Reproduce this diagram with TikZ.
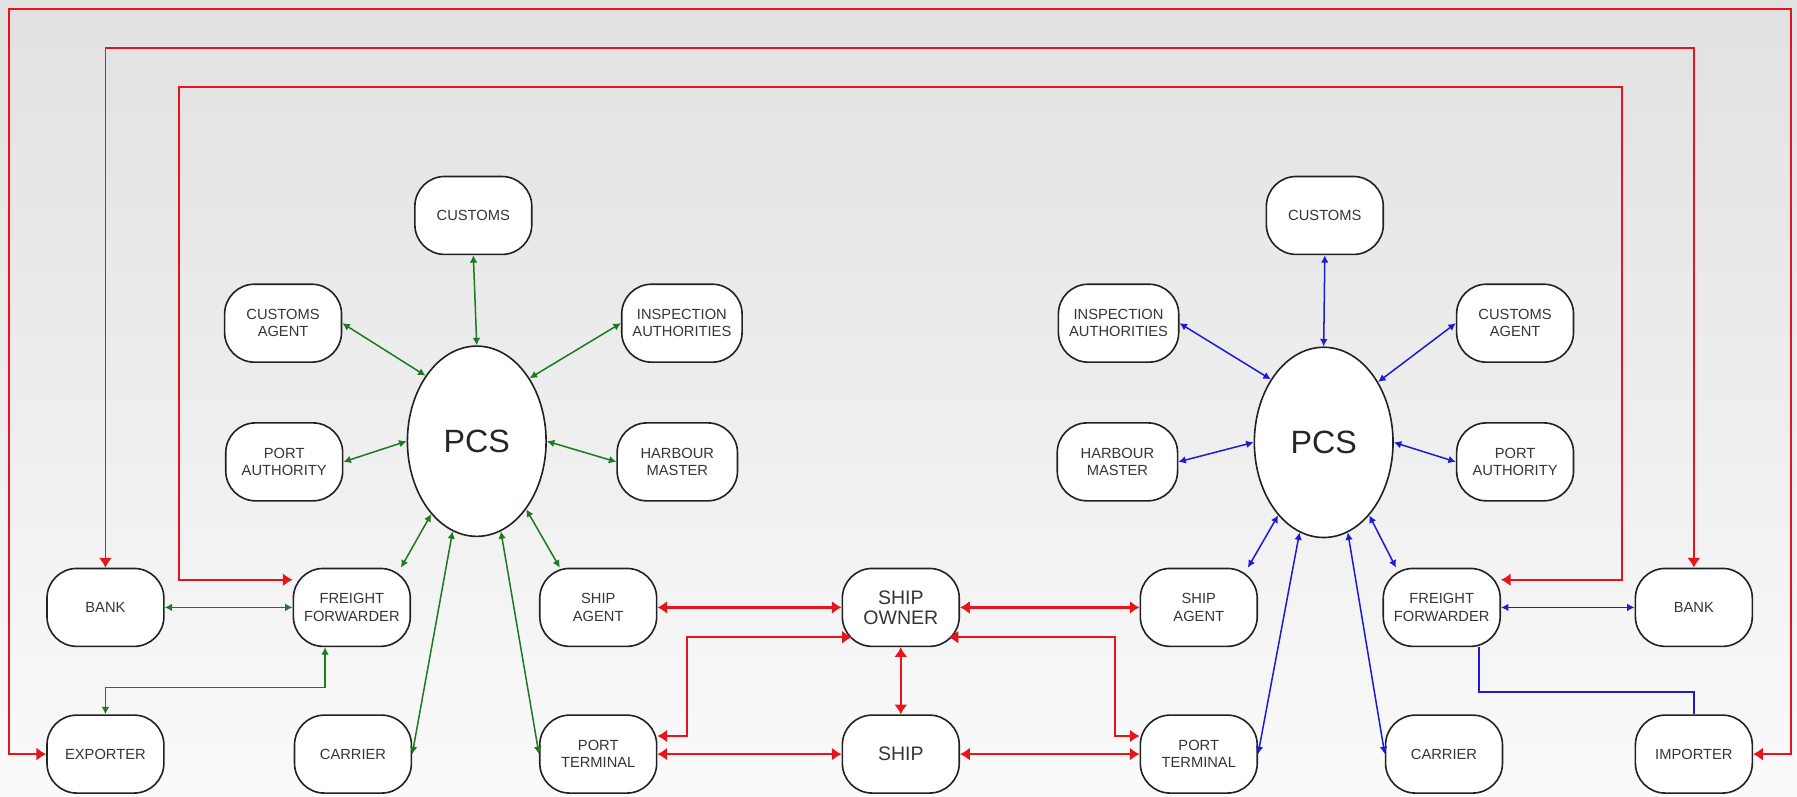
\documentclass[tikz,border=0pt]{standalone}
\usepackage{fontspec}
\setmainfont{Liberation Sans}
\usetikzlibrary{positioning,calc,arrows.meta,shapes.geometric}
\definecolor{linkred}{HTML}{E8141B}
\definecolor{linkgreen}{HTML}{1E7A22}
\definecolor{linkblue}{HTML}{1C1CD6}
\definecolor{edge}{HTML}{222222}
\definecolor{txt}{HTML}{363636}
\definecolor{bgtop}{HTML}{E1E1E1}
\definecolor{bgbot}{HTML}{FAFAFA}
\tikzset{
  box/.style   ={draw=edge, fill=white, rounded corners=5.2mm, minimum width=20.4mm,
                 minimum height=13.6mm, align=center, inner sep=1pt, line width=0.8pt,
                 text=txt, font=\fontsize{7.3}{8.6}\selectfont},
  widebox/.style={box, minimum width=21mm},
  shipbox/.style={box, font=\fontsize{9.7}{10}\selectfont},
  hub/.style   ={draw=edge, fill=white, ellipse, minimum width=24.2mm,
                 minimum height=33.2mm, inner sep=0pt, line width=0.8pt,
                 text=black!85, font=\fontsize{16}{16}\selectfont},
  gflow/.style ={<->, >={Latex[length=1.3mm,width=1.35mm]}, linkgreen, line width=0.75pt},
  bflow/.style ={<->, >={Latex[length=1.3mm,width=1.35mm]}, linkblue, line width=0.75pt},
  bline/.style ={linkblue, line width=0.75pt},
  rflow/.style ={<->, >={Latex[length=1.7mm,width=2.3mm]}, linkred, line width=1.2pt},
  rloop/.style ={rflow, line width=0.9pt},
}
\begin{document}
\begin{tikzpicture}[x=0.2mm, y=-0.2mm]
    \useasboundingbox (0,0) rectangle (1568,695);
    \shade[top color=bgtop, bottom color=bgbot] (0,0) rectangle (1568,695);
    % export side
    \node[box] (CUL) at (413,188) {CUSTOMS};
    \node[box] (CAL) at (247,282) {CUSTOMS\\AGENT};
    \node[widebox] (IAL) at (595,282) {INSPECTION\\AUTHORITIES};
    \node[hub] (PCSL) at (416,385) {PCS};
    \node[box] (PAL) at (248,403) {PORT\\AUTHORITY};
    \node[widebox] (HML) at (591,403) {HARBOUR\\MASTER};
    \node[box] (BKL) at (92,530) {BANK};
    \node[box] (FFL) at (307,530) {FREIGHT\\FORWARDER};
    \node[box] (SAL) at (522,530) {SHIP\\AGENT};
    \node[box] (EXP) at (92,658) {EXPORTER};
    \node[box] (CRL) at (308,658) {CARRIER};
    \node[box] (PTL) at (522,658) {PORT\\TERMINAL};
    % ship
    \node[shipbox] (SO) at (786,530) {SHIP\\OWNER};
    \node[shipbox] (SH) at (786,658) {SHIP};
    % import side
    \node[box] (CUR) at (1156,188) {CUSTOMS};
    \node[widebox] (IAR) at (976,282) {INSPECTION\\AUTHORITIES};
    \node[box] (CAR) at (1322,282) {CUSTOMS\\AGENT};
    \node[hub] (PCSR) at (1155,386) {PCS};
    \node[widebox] (HMR) at (975,403) {HARBOUR\\MASTER};
    \node[box] (PAR) at (1322,403) {PORT\\AUTHORITY};
    \node[box] (SAR) at (1046,530) {SHIP\\AGENT};
    \node[box] (FFR) at (1258,530) {FREIGHT\\FORWARDER};
    \node[box] (BKR) at (1478,530) {BANK};
    \node[box] (PTR) at (1046,658) {PORT\\TERMINAL};
    \node[box] (CRR) at (1260,658) {CARRIER};
    \node[box] (IMP) at (1478,658) {IMPORTER};
    % export PCS links
    \draw[gflow] (CUL.south) -- (PCSL.north);
    \draw[gflow] (CAL.east) -- (PCSL.128);
    \draw[gflow] (IAL.west) -- (PCSL.50);
    \draw[gflow] (PAL.east) -- (PCSL.180);
    \draw[gflow] (HML.west) -- (PCSL.0);
    \draw[gflow] (FFL.39) -- (PCSL.238);
    \draw[gflow] (SAL.134) -- (PCSL.306);
    \draw[gflow] (CRL.east) -- (PCSL.255);
    \draw[gflow] (PTL.west) -- (PCSL.285);
    \draw[gflow] (BKL) -- (FFL);
    \draw[gflow] (FFL.236) -- ++(0,35) -| (EXP);
    % import PCS links
    \draw[bflow] (CUR.south) -- (PCSR.north);
    \draw[bflow] (IAR.east) -- (PCSR.130);
    \draw[bflow] (CAR.west) -- (PCSR.48);
    \draw[bflow] (HMR.east) -- (PCSR.180);
    \draw[bflow] (PAR.west) -- (PCSR.0);
    \draw[bflow] (SAR.39) -- (PCSR.238);
    \draw[bflow] (FFR.139) -- (PCSR.302);
    \draw[bflow] (PTR.east) -- (PCSR.255);
    \draw[bflow] (CRR.west) -- (PCSR.285);
    \draw[bflow] (FFR) -- (BKR);
    \draw[bline] (FFR.313) -- ++(0,39) -| (IMP);
    % ship links
    \draw[rflow] (SAL) -- (SO);
    \draw[rflow] (SO) -- (SAR);
    \draw[rflow] (SO) -- (SH);
    \draw[rflow] (PTL) -- (SH);
    \draw[rflow] (SH) -- (PTR);
    \draw[rflow] (PTL.17) -| ($(SO.west)+(-135,26)$) -- ($(SO.west)+(9,26)$);
    \draw[rflow] (PTR.163) -| ($(SO.east)+(135,26)$) -- ($(SO.east)+(-10,26)$);
    % trade loops
    \draw[rloop] (EXP.west) -| (8,8) -- (1563,8) |- (IMP.east);
    \draw[rloop] (BKL.north) |- (1478,42) -- (BKR.north);
    \draw[rloop] (FFL.155) -| (156,76) -- (1415,76) |- (FFR.25);
  \end{tikzpicture}
\end{document}
